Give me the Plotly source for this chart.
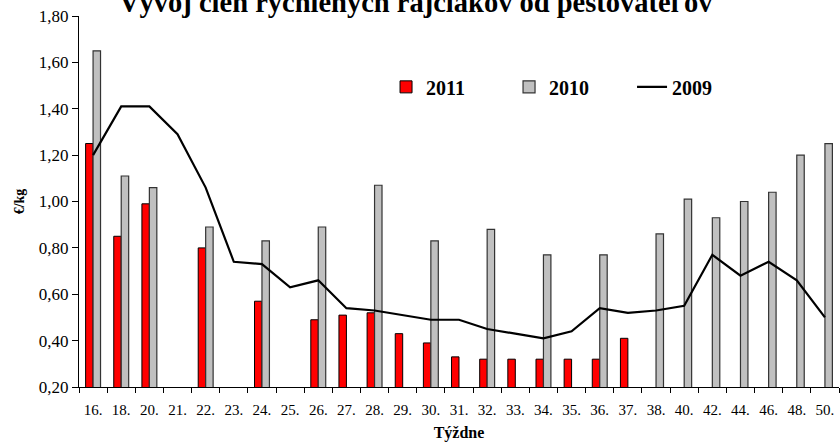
import plotly.graph_objects as go

weeks = ["16.", "18.", "20.", "21.", "22.", "23.", "24.", "25.", "26.", "27.", "28.", "29.", "30.",
         "31.", "32.", "33.", "34.", "35.", "36.", "37.", "38.", "40.", "42.", "44.", "46.", "48.", "50."]

prices_2011 = [1.25, 0.85, 0.99, None, 0.80, None, 0.57, None, 0.49, 0.51, 0.52, 0.43, 0.39,
               0.33, 0.32, 0.32, 0.32, 0.32, 0.32, 0.41, None, None, None, None, None, None, None]

prices_2010 = [1.65, 1.11, 1.06, None, 0.89, None, 0.83, None, 0.89, None, 1.07, None, 0.83,
               None, 0.88, None, 0.77, None, 0.77, None, 0.86, 1.01, 0.93, 1.00, 1.04, 1.20, 1.25]

prices_2009 = [1.20, 1.41, 1.41, 1.29, 1.06, 0.74, 0.73, 0.63, 0.66, 0.54, 0.53, 0.51, 0.49,
               0.49, 0.45, 0.43, 0.41, 0.44, 0.54, 0.52, 0.53, 0.55, 0.77, 0.68, 0.74, 0.66, 0.50]

SERIF = "Liberation Serif"

fig = go.Figure()
fig.add_trace(go.Bar(x=weeks, y=prices_2011, name="2011",
                     marker=dict(color="#FF0000", line=dict(color="#000000", width=1))))
fig.add_trace(go.Bar(x=weeks, y=prices_2010, name="2010",
                     marker=dict(color="#C0C0C0", line=dict(color="#333333", width=1.2))))
fig.add_trace(go.Scatter(x=weeks, y=prices_2009, name="2009", mode="lines",
                         line=dict(color="#000000", width=2.2)))

fig.update_layout(
    width=840, height=443,
    margin=dict(l=79, r=1, t=16, b=56, autoexpand=False),
    paper_bgcolor="white", plot_bgcolor="white",
    separators=",.",
    barmode="group", bargap=0.47, bargroupgap=0,
    font=dict(family=SERIF, color="black"),
    showlegend=True,
    legend=dict(orientation="h", x=0.404, xanchor="left", y=0.809, yanchor="middle",
                font=dict(family=SERIF, size=20, color="black", weight="bold"),
                bgcolor="rgba(0,0,0,0)", entrywidth=78, entrywidthmode="pixels",
                traceorder="normal"),
    xaxis=dict(type="category", showline=True, linecolor="black", linewidth=1, automargin=False,
               ticks="outside", ticklen=5, tickcolor="black", tickson="boundaries",
               ticklabelstandoff=9,
               showgrid=False, tickfont=dict(size=15, family=SERIF),
               title=dict(text="<b>Týždne</b>", font=dict(size=16, family=SERIF), standoff=9)),
    yaxis=dict(range=[0.2, 1.8], dtick=0.2, tickformat=".2f", showline=True, linecolor="black",
               linewidth=1, automargin=False, ticks="outside", ticklen=6, tickcolor="black",
               showgrid=False, zeroline=False, tickfont=dict(size=17, family=SERIF),
               title=dict(text="<b>€/kg</b>", font=dict(size=14, family=SERIF), standoff=10)),
    annotations=[dict(text="<b>Vývoj cien rýchlených rajčiakov od pestovateľov</b>",
                      xref="paper", yref="paper", x=(416 - 79) / 760, y=0.988,
                      xanchor="center", yanchor="bottom", showarrow=False,
                      font=dict(size=28.5, family=SERIF, color="black"))],
)

fig.write_html("out.html", config={"displayModeBar": False},
               post_script="document.body.style.margin='0';")
